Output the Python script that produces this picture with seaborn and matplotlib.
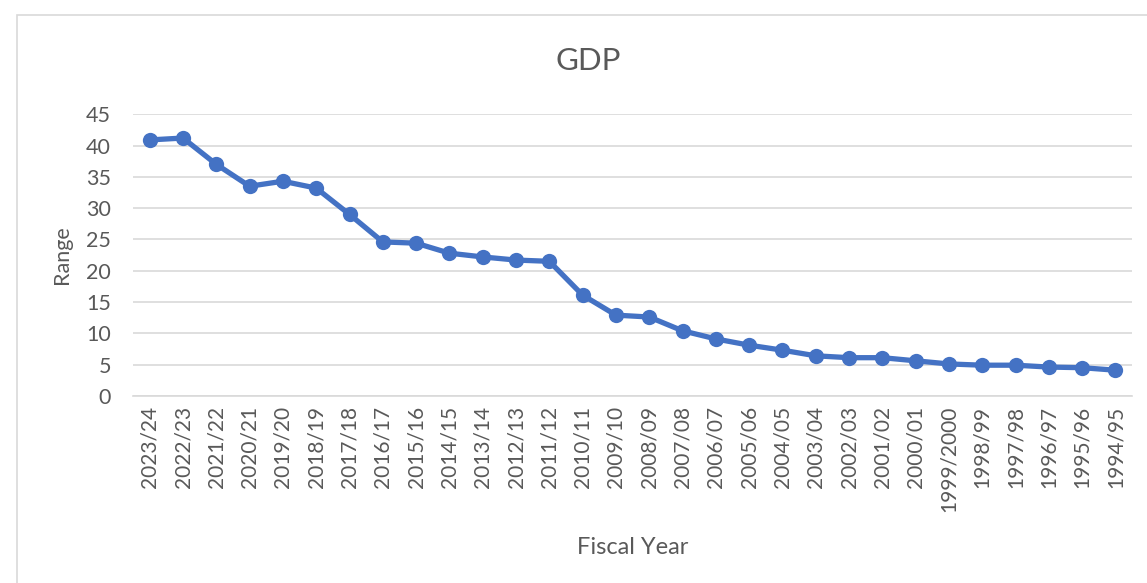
import matplotlib
matplotlib.use("Agg")
import matplotlib.pyplot as plt
import seaborn as sns
import pandas as pd
from matplotlib.patches import Rectangle

years = ["2023/24", "2022/23", "2021/22", "2020/21", "2019/20", "2018/19", "2017/18",
         "2016/17", "2015/16", "2014/15", "2013/14", "2012/13", "2011/12", "2010/11",
         "2009/10", "2008/09", "2007/08", "2006/07", "2005/06", "2004/05", "2003/04",
         "2002/03", "2001/02", "2000/01", "1999/2000", "1998/99", "1997/98", "1996/97",
         "1995/96", "1994/95"]
gdp = [40.9, 41.2, 37.0, 33.5, 34.3, 33.2, 29.0, 24.6, 24.4, 22.8, 22.2, 21.7, 21.5, 16.1,
       12.9, 12.6, 10.4, 9.1, 8.1, 7.3, 6.4, 6.1, 6.1, 5.6, 5.1, 4.9, 4.9, 4.6, 4.5, 4.1]
yticks = [0, 5, 10, 15, 20, 25, 30, 35, 40, 45]

sns.set_theme(style="white")
plt.rcParams['font.family'] = ['Lato', 'DejaVu Sans']
text_color = "#595959"

df = pd.DataFrame({"Fiscal Year": years, "GDP": gdp})

fig = plt.figure(figsize=(11.47, 5.83), dpi=100)
ax = fig.add_axes([0.116, 0.321, 0.871, 0.483])

sns.lineplot(data=df, x="Fiscal Year", y="GDP", sort=False, ax=ax,
             color="#4472C4", linewidth=3.8, marker="o", markersize=11,
             markeredgewidth=0, zorder=3)

ax.set_ylim(0, 45)
ax.set_yticks(yticks)
ax.set_xlim(-0.5, len(years) - 0.5)
ax.yaxis.grid(True, color="#D9D9D9", linewidth=1.2)
ax.xaxis.grid(False)
for s in ["top", "right", "left"]:
    ax.spines[s].set_visible(False)
ax.spines["bottom"].set_color("#D9D9D9")
ax.spines["bottom"].set_linewidth(1.2)
ax.tick_params(axis="both", length=0, colors=text_color)
ax.tick_params(axis="y", labelsize=15.5, pad=16)
ax.tick_params(axis="x", labelsize=15, pad=7)
plt.setp(ax.get_xticklabels(), rotation=90)
plt.setp(ax.get_yticklabels(), ha="right")

ax.set_xlabel("Fiscal Year", fontsize=17, color=text_color, labelpad=18)
ax.set_ylabel("Range", fontsize=15.5, color=text_color, labelpad=10)
fig.text(0.513, 0.896, "GDP", fontsize=22.5, color=text_color, ha="center", va="center")

fig.patches.append(Rectangle((17 / 1147, -0.05), 1.1, 1 - 15 / 583 + 0.05,
                             transform=fig.transFigure, fill=False,
                             edgecolor="#D9D9D9", linewidth=1.2, zorder=0))

fig.savefig("out.png", dpi=100, facecolor="white")
